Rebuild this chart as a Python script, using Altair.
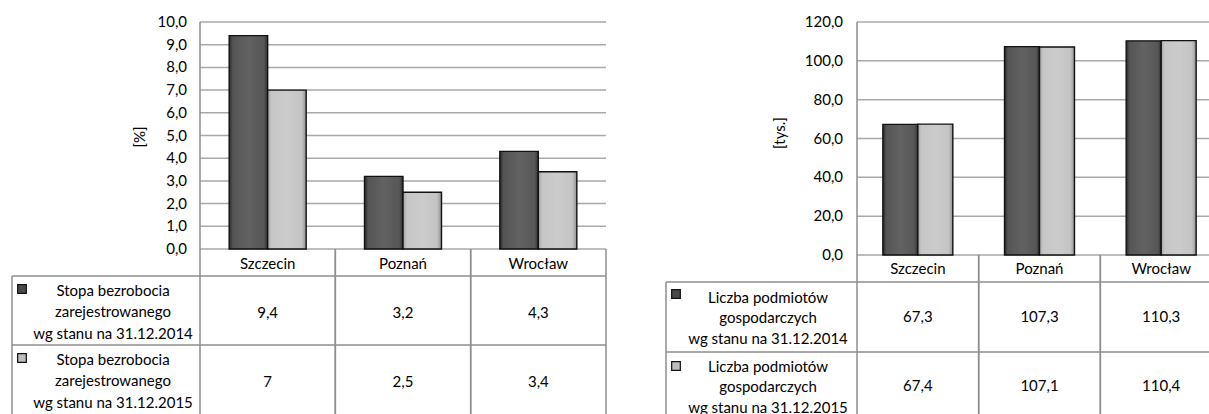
import altair as alt
import pandas as pd

# --- values -------------------------------------------------------------
cities = ["Szczecin", "Poznań", "Wrocław"]
years = ["2014", "2015"]

rate_2014 = [9.4, 3.2, 4.3]
rate_2015 = [7.0, 2.5, 3.4]
firms_2014 = [67.3, 107.3, 110.3]
firms_2015 = [67.4, 107.1, 110.4]

rate_ticks = [0, 1, 2, 3, 4, 5, 6, 7, 8, 9, 10]
firms_ticks = [0, 20, 40, 60, 80, 100, 120]

rate_unit = "[%]"
firms_unit = "[tys.]"

rate_rows = [
    ["Stopa bezrobocia", "zarejestrowanego", "wg stanu na 31.12.2014"],
    ["Stopa bezrobocia", "zarejestrowanego", "wg stanu na 31.12.2015"],
]
firms_rows = [
    ["Liczba podmiotów", "gospodarczych", "wg stanu na 31.12.2014"],
    ["Liczba podmiotów", "gospodarczych", "wg stanu na 31.12.2015"],
]

# --- styling ------------------------------------------------------------
FONT = "Lato"
TEXT = "#000000"
GRID = "#a9a9a9"
BORDER = "#8e8e8e"

DARK = alt.Gradient(
    gradient="linear", x1=0, x2=1, y1=0, y2=0,
    stops=[alt.GradientStop(offset=0, color="#2c2c2c"),
           alt.GradientStop(offset=0.1, color="#555555"),
           alt.GradientStop(offset=0.5, color="#626262"),
           alt.GradientStop(offset=0.9, color="#575757"),
           alt.GradientStop(offset=1, color="#333333")])
LIGHT = alt.Gradient(
    gradient="linear", x1=0, x2=1, y1=0, y2=0,
    stops=[alt.GradientStop(offset=0, color="#a4a4a4"),
           alt.GradientStop(offset=0.1, color="#c6c6c6"),
           alt.GradientStop(offset=0.5, color="#cbcbcb"),
           alt.GradientStop(offset=0.88, color="#c4c4c4"),
           alt.GradientStop(offset=1, color="#929292")])
SWATCH = {"2014": "#4a4a4a", "2015": "#bdbdbd"}


def tick_text(v):
    return f"{v:.1f}".replace(".", ",")


def cell_text(v):
    return f"{v:g}".replace(".", ",")


one = pd.DataFrame({"k": [0]})


def panel(s2014, s2015, ticks, unit, rows, L):
    layers = []
    y_scale = alt.Scale(domain=[ticks[0], ticks[-1]], range=[L["zero"], L["top"]])
    bar_x = alt.Scale(domain=cities, range=[L["x0"], L["x1"]],
                      paddingInner=L["pad"], paddingOuter=L["pad"] / 2)
    col_x = alt.Scale(domain=cities, range=[L["x0"], L["x1"]],
                      paddingInner=0, paddingOuter=0)

    # horizontal gridlines and their labels
    tick_df = pd.DataFrame({"v": ticks, "label": [tick_text(t) for t in ticks]})
    layers.append(
        alt.Chart(tick_df).mark_rule(color=GRID, strokeWidth=1.5).encode(
            y=alt.Y("v:Q", scale=y_scale, axis=None),
            x=alt.value(L["x0"]), x2=alt.value(L["x1"])))
    layers.append(
        alt.Chart(tick_df).mark_text(align="right", baseline="middle", fontSize=15,
                                     font=FONT, color=TEXT).encode(
            y=alt.Y("v:Q", scale=y_scale, axis=None),
            x=alt.value(L["tick_x"]), text="label:N"))
    # value axis line
    layers.append(
        alt.Chart(one).mark_rule(color=BORDER, strokeWidth=1.5).encode(
            x=alt.value(L["x0"]), y=alt.value(L["top"]), y2=alt.value(L["zero"])))
    # unit title
    layers.append(
        alt.Chart(pd.DataFrame({"t": [unit]})).mark_text(
            angle=270, fontSize=15, font=FONT, color=TEXT, baseline="middle").encode(
            x=alt.value(L["unit_x"]), y=alt.value(L["unit_y"]), text="t:N"))

    # bars
    bar_df = pd.DataFrame({
        "city": cities * 2,
        "year": [years[0]] * 3 + [years[1]] * 3,
        "value": list(s2014) + list(s2015),
    })
    for yr, fill in zip(years, [DARK, LIGHT]):
        layers.append(
            alt.Chart(bar_df).transform_filter(alt.datum.year == yr).mark_bar(
                color=fill, stroke="#111111", strokeWidth=1.4).encode(
                x=alt.X("city:N", scale=bar_x, axis=None),
                xOffset=alt.XOffset("year:N", scale=alt.Scale(
                    domain=years, paddingInner=0, paddingOuter=0)),
                y=alt.Y("value:Q", scale=y_scale, axis=None)))

    # data table: column separators
    col_df = pd.DataFrame({"city": cities})
    for bp in (0, 1):
        layers.append(
            alt.Chart(col_df).mark_rule(color=BORDER, strokeWidth=1.5).encode(
                x=alt.X("city:N", scale=col_x, axis=None, bandPosition=bp),
                y=alt.value(L["zero"]), y2=alt.value(L["bottom"])))
    layers.append(
        alt.Chart(one).mark_rule(color=BORDER, strokeWidth=1.5).encode(
            x=alt.value(L["table_left"]), y=alt.value(L["head_bottom"]),
            y2=alt.value(L["bottom"])))
    for yy in (L["head_bottom"], L["row_split"]):
        layers.append(
            alt.Chart(one).mark_rule(color=BORDER, strokeWidth=1.5).encode(
                y=alt.value(yy), x=alt.value(L["table_left"]), x2=alt.value(L["x1"])))

    # header row with city names
    layers.append(
        alt.Chart(col_df).mark_text(fontSize=15, font=FONT, color=TEXT,
                                    baseline="middle").encode(
            x=alt.X("city:N", scale=col_x, axis=None),
            y=alt.value(L["header_y"]), text="city:N"))

    # value cells, row labels and swatches
    for i, (yr, series) in enumerate(zip(years, [s2014, s2015])):
        cell_df = pd.DataFrame({"city": cities, "txt": [cell_text(v) for v in series]})
        layers.append(
            alt.Chart(cell_df).mark_text(fontSize=15, font=FONT, color=TEXT,
                                         baseline="middle").encode(
                x=alt.X("city:N", scale=col_x, axis=None),
                y=alt.value(L["value_y"][i]), text="txt:N"))
        for j, line in enumerate(rows[i]):
            layers.append(
                alt.Chart(pd.DataFrame({"t": [line]})).mark_text(
                    fontSize=15, font=FONT, color=TEXT, baseline="middle").encode(
                    x=alt.value(L["label_x"]),
                    y=alt.value(L["label_y"][i] + (j - 1) * L["line_gap"]),
                    text="t:N"))
        layers.append(
            alt.Chart(pd.DataFrame({"year": [yr]})).mark_square(
                size=75, color=SWATCH[yr], opacity=1, stroke="#111111",
                strokeWidth=1.2).encode(
                x=alt.value(L["swatch_x"]), y=alt.value(L["swatch_y"][i])))
    return layers


LEFT = dict(x0=200, x1=606, top=22, zero=249, pad=0.431, tick_x=187,
            unit_x=140, unit_y=137, table_left=12, head_bottom=276, row_split=345,
            bottom=414, header_y=264, value_y=(313, 382), label_x=113,
            label_y=(312, 381), line_gap=21.5, swatch_x=22, swatch_y=(289, 358))
RIGHT = dict(x0=857, x1=1222, top=22, zero=255, pad=0.425, tick_x=843,
             unit_x=780, unit_y=133, table_left=666, head_bottom=282, row_split=352,
             bottom=414, header_y=269, value_y=(317, 386), label_x=768,
             label_y=(318, 387), line_gap=20.5, swatch_x=676, swatch_y=(294, 366))

layers = (panel(rate_2014, rate_2015, rate_ticks, rate_unit, rate_rows, LEFT)
          + panel(firms_2014, firms_2015, firms_ticks, firms_unit, firms_rows, RIGHT))

chart = alt.layer(*layers).resolve_scale(
    x="independent", y="independent", xOffset="independent"
).properties(
    width=1209, height=414, padding=0,
    autosize=alt.AutoSizeParams(type="none"),
    background="white",
).configure_view(stroke=None)

chart.save("out.html", embed_options={"renderer": "svg", "actions": False})
